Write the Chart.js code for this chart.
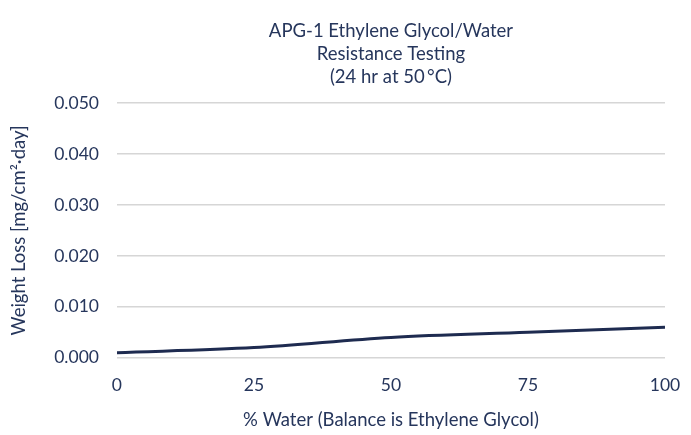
<!DOCTYPE html>
<html>
<head>
<meta charset="utf-8">
<script src="https://cdn.jsdelivr.net/npm/chart.js@4/dist/chart.umd.min.js"></script>
<style>
  body { margin: 0; background: #fff; }
  #wrap { width: 691px; height: 435px; }
</style>
</head>
<body>
<div id="wrap"><canvas id="myLineChart" width="691" height="435"></canvas></div>
<script>
const waterPct = [0, 25, 50, 75, 100];
const weightLoss = [0.001, 0.002, 0.004, 0.005, 0.006];
const titleLines = ['APG-1 Ethylene Glycol/Water', 'Resistance Testing', '(24 hr at 50\u2009°C)'];
const textColor = '#26365c';

// title centred over the plot area, not the whole canvas
const plotTitle = {
  id: 'plotTitle',
  afterDraw(chart) {
    const ctx = chart.ctx;
    const area = chart.chartArea;
    const cx = (area.left + area.right) / 2;
    ctx.save();
    ctx.font = '18.5px Lato';
    ctx.fillStyle = textColor;
    ctx.textAlign = 'center';
    ctx.textBaseline = 'middle';
    titleLines.forEach((line, i) => ctx.fillText(line, cx, 31 + i * 23));
    ctx.restore();
  }
};

const ctx = document.getElementById('myLineChart').getContext('2d');
const myLineChart = new Chart(ctx, {
  type: 'line',
  data: {
    datasets: [{
      data: waterPct.map((x, i) => ({ x: x, y: weightLoss[i] })),
      borderColor: '#1e2b50',
      borderWidth: 3,
      pointRadius: 0,
      cubicInterpolationMode: 'monotone',
      fill: false
    }]
  },
  options: {
    responsive: false,
    animation: false,
    layout: { padding: { top: 103, right: 26, left: 4, bottom: 0 } },
    plugins: { legend: { display: false }, tooltip: { enabled: false } },
    scales: {
      x: {
        type: 'linear',
        min: 0,
        max: 100,
        grid: { display: false },
        border: { display: false },
        ticks: { stepSize: 25, color: textColor, font: { family: 'Lato', size: 17.5 }, padding: 9 },
        title: { display: true, text: '% Water (Balance is Ethylene Glycol)', color: textColor, font: { family: 'Lato', size: 18.5 }, padding: { top: 4 } }
      },
      y: {
        min: 0,
        max: 0.05,
        grid: { color: '#d6d6d6', lineWidth: 1.5, drawTicks: false },
        border: { display: false },
        ticks: {
          stepSize: 0.01,
          color: textColor,
          font: { family: 'Lato', size: 17.5 },
          padding: 18,
          callback: v => v.toFixed(3)
        },
        title: { display: true, text: 'Weight Loss [mg/cm²·day]', color: textColor, font: { family: 'Lato', size: 18.5 }, padding: { bottom: 6 } }
      }
    }
  },
  plugins: [plotTitle]
});
</script>
</body>
</html>
